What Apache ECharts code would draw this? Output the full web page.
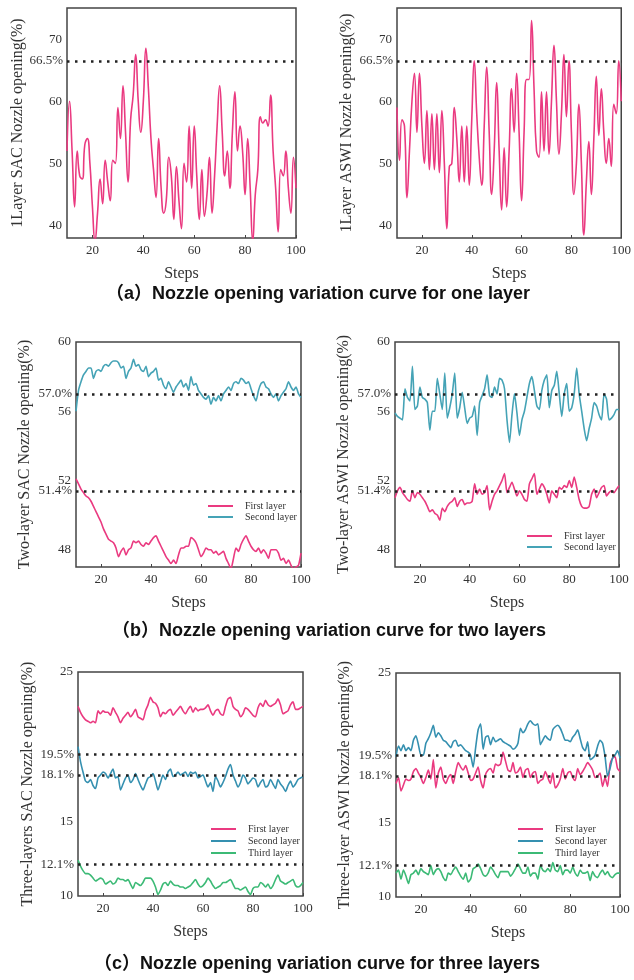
<!DOCTYPE html>
<html>
<head>
<meta charset="utf-8">
<script src="https://cdn.jsdelivr.net/npm/echarts@6/dist/echarts.min.js"></script>
<style>
  html, body { margin: 0; padding: 0; background: #fff; }
  #chart { width: 634px; height: 980px; }
</style>
</head>
<body>
<div id="chart"></div>
<script>
// Control steps 10..100 shared by every panel
const steps = Array.from({ length: 91 }, (_, i) => 10 + i);
const stepTicks = [20, 40, 60, 80, 100];

// One nozzle layer
const oneSAC = [
  52, 60, 52, 43, 52, 48, 47.5, 53, 54, 50,
  43, 37.5, 42, 47.5, 43.5, 50.5, 47, 44, 50.5, 50,
  59, 54, 62.5, 55, 47, 57, 61, 67.5, 60, 55,
  60, 68.5, 62, 54, 49, 44.5, 54, 46, 42, 44,
  51, 48, 41, 49.5, 44, 39.5, 50, 47, 56, 46,
  56, 48, 41, 49, 41.5, 45, 51, 42, 48, 56,
  62.5, 55, 48, 52, 46, 55, 61.5, 52, 56, 52,
  45, 54, 46, 37.5, 45, 49, 57.5, 56.5, 57, 56,
  61, 52, 46, 39, 49, 48, 52, 46, 42, 51, 46
];
const oneASWI = [
  59, 50.5, 57, 56, 44.5, 52, 60, 64.5, 55, 64.5,
  56, 50, 58.5, 49, 58, 49, 58, 48.5, 58.5, 50,
  39.5, 49.5, 50, 59, 54, 47, 56, 47, 56, 46.5,
  57, 66.5, 58, 51, 46.5, 56, 65.5, 55, 45, 52,
  63, 52, 42.5, 52.5, 43, 52, 62, 55, 64.5, 55,
  44, 55, 63.5, 63.5, 73, 62, 52, 51, 61.5, 52,
  61.5, 51.5, 60, 69, 60, 51.5, 58, 67.5, 57.5, 66.5,
  55, 45, 50, 59.5, 50, 38.5, 47, 53.5, 45, 54,
  64, 54.5, 62, 55, 50, 54, 49.5, 59.5, 58, 66.5, 60
];
const oneTicks = [40, 50, 60, 70];
const oneRef = [66.5];

// Two nozzle layers
const twoSAC1 = [
  52.1, 51.8, 51.5, 51.3, 51.1, 51.0, 50.8, 50.5, 50.2, 49.9,
  49.6, 49.2, 48.9, 48.6, 48.5, 48.4, 48.1, 47.6, 47.9, 48.1,
  47.7, 48.0, 48.1, 48.5, 48.4, 48.5, 48.3, 48.2, 48.4, 48.3,
  48.5, 48.7, 48.8, 48.5, 48.2, 47.9, 47.6, 47.4, 47.2, 47.4,
  47.2, 47.7, 48.1, 48.1, 48.2, 48.2, 48.7, 48.6, 48.4, 48.0,
  47.6, 47.8, 48.1, 48.0, 48.0, 47.8, 47.9, 47.7, 47.8, 47.9,
  47.5, 47.2, 46.9, 47.5, 48.1, 47.9, 48.3, 48.6, 48.8, 48.5,
  48.2, 48.0, 47.9, 48.1, 47.8, 48.0, 47.8, 47.5, 48.0, 48.0,
  48.0, 47.8, 47.4, 47.5, 47.2, 47.4, 47.1, 46.9, 47.0, 47.1, 47.8
];
const twoSAC2 = [
  56.0, 57.2, 57.7, 58.1, 58.3, 58.5, 58.5, 57.9, 58.3, 58.4,
  58.3, 58.6, 58.7, 58.6, 58.8, 58.9, 58.9, 58.8, 58.5, 58.6,
  57.9, 58.3, 58.5, 59.0, 58.6, 58.7, 58.4, 58.3, 58.6, 58.0,
  58.2, 58.3, 58.5, 57.8, 57.9, 57.5, 57.3, 57.7, 57.4, 57.1,
  57.4, 57.6, 57.8, 57.4, 57.6, 57.2, 58.0, 57.5, 57.6, 57.2,
  57.0, 56.8, 56.7, 56.9, 56.4, 56.8, 56.6, 56.9, 56.6, 57.0,
  57.2, 57.4, 57.2, 57.6, 57.7, 57.6, 57.9, 57.8, 57.6, 57.7,
  57.3, 56.9, 56.6, 57.2, 57.6, 57.7, 57.4, 57.3, 57.0, 56.8,
  57.0, 56.6, 56.9, 57.1, 57.3, 57.7, 57.4, 57.2, 57.4, 57.0, 56.8
];
const twoASWI1 = [
  51.0, 51.4, 51.6, 51.3, 51.1, 50.9, 50.8, 51.4, 51.0, 51.3,
  51.2, 51.0, 50.8, 50.5, 50.2, 50.3, 50.1, 50.0, 49.7, 50.4,
  50.2, 50.5, 50.7, 50.8, 51.0, 50.5, 50.8, 50.9, 50.6, 50.7,
  50.7, 50.8, 51.8, 51.2, 51.5, 51.2, 51.3, 51.7, 50.3, 50.8,
  51.2, 51.4, 51.7, 52.0, 52.4, 51.3, 51.6, 51.9, 51.5, 51.1,
  51.4, 51.2, 50.9, 50.8, 51.8, 52.1, 52.4, 51.2, 51.5, 51.8,
  51.6, 51.2, 50.7, 51.4, 51.2, 51.0, 51.6, 51.5, 51.7, 51.6,
  52.0, 51.6, 52.2, 51.6, 50.9, 50.5, 50.4, 50.4, 50.5, 51.2,
  51.5, 51.0, 51.3, 51.6, 51.7, 51.1, 51.3, 51.4, 51.3, 51.5, 51.7
];
const twoASWI2 = [
  55.9, 55.7, 55.6, 55.5, 57.3, 56.8, 56.6, 58.6, 56.1, 56.3,
  57.4, 56.8, 56.7, 56.5, 54.9, 56.0, 56.0, 57.9, 57.0, 56.1,
  58.2, 55.6, 56.2, 57.0, 58.2, 55.6, 56.2, 57.1, 56.2, 55.3,
  55.6, 55.7, 56.3, 54.6, 56.5, 56.9, 57.3, 58.1, 56.9, 56.8,
  57.4, 57.0, 57.9, 57.8, 57.3, 55.5, 54.2, 55.8, 57.0, 55.9,
  54.6, 55.5, 56.0, 56.8, 57.6, 58.0, 57.2, 56.3, 56.1, 57.2,
  57.8, 58.1, 56.2, 57.2, 57.5, 58.3, 57.0, 55.7, 57.0, 57.6,
  56.0, 56.2, 57.0, 58.5, 57.0, 56.0, 55.0, 54.3, 55.0, 55.6,
  56.5, 56.3, 55.8, 55.5, 57.0, 56.7, 55.5, 55.6, 55.8, 56.1, 56.1
];
const twoTicks = [48, 52, 56, 60];
const twoRef = [57.0, 51.4];

// Three nozzle layers
const threeSAC1 = [
  22.7, 22.3, 22.0, 21.8, 21.7, 21.6, 21.7, 21.6, 22.4, 22.2,
  22.4, 22.3, 22.3, 22.1, 22.6, 22.3, 22.0, 21.6, 21.9, 22.1,
  22.3, 22.0, 22.2, 22.5, 22.0, 21.9, 21.8, 22.4, 22.8, 23.3,
  23.0, 22.9, 22.6, 22.0, 22.3, 22.2, 22.4, 22.5, 22.1, 22.3,
  22.5, 22.7, 22.4, 22.2, 22.5, 22.7, 22.3, 22.6, 22.4, 22.5,
  22.5, 22.6, 22.8, 22.4, 22.1, 22.4, 22.5, 22.2, 22.1, 22.7,
  23.2, 23.3, 22.7, 22.5, 22.4, 22.0, 22.2, 22.6, 22.5, 22.3,
  22.1, 22.0, 22.6, 22.9, 22.7, 23.1, 22.8, 22.7, 22.8, 22.9,
  23.2, 22.8, 22.2, 22.3, 22.4, 22.8, 23.0, 22.5, 22.5, 22.6, 22.7
];
const threeSAC2 = [
  20.0, 19.0, 18.3, 17.7, 17.6, 17.8, 17.4, 17.2, 17.9, 18.1,
  18.3, 18.2, 17.9, 18.2, 18.5, 17.9, 18.0, 17.1, 17.5, 17.9,
  18.1, 17.6, 17.8, 18.2, 17.8, 17.4, 17.1, 17.5, 17.9, 18.0,
  18.2, 17.7, 17.1, 17.6, 18.1, 17.8, 18.3, 18.5, 18.0, 18.1,
  18.3, 18.1, 18.2, 18.3, 18.0, 18.3, 18.2, 18.3, 17.9, 18.0,
  18.1, 17.7, 17.3, 17.6, 17.0, 18.0, 17.7, 17.3, 17.6, 18.0,
  18.5, 18.8, 18.1, 17.7, 17.3, 17.6, 18.1, 17.9, 17.5, 17.7,
  17.9, 17.8, 17.3, 17.6, 17.8, 17.3, 17.4, 17.8, 17.5, 17.2,
  17.8, 17.5, 17.3, 17.0, 17.4, 17.7, 17.3, 17.5, 17.8, 17.9, 18.0
];
const threeSAC3 = [
  12.4, 12.0, 11.7, 11.5, 11.5, 11.4, 11.2, 11.0, 11.1, 11.2,
  11.1, 10.8, 10.9, 11.0, 10.8, 10.9, 11.2, 11.1, 11.1, 11.0,
  11.1, 10.8, 10.5, 10.9, 10.8, 10.7, 10.9, 11.2, 11.2, 11.2,
  11.0, 10.6, 10.1, 10.4, 10.8, 10.9, 10.7, 11.0, 10.8, 10.7,
  10.7, 10.6, 10.6, 10.5, 10.6, 10.7, 10.9, 11.1, 10.8, 10.6,
  10.7, 10.9, 11.2, 11.0, 10.7, 10.5, 10.6, 10.7, 10.9, 10.9,
  11.0, 11.1, 10.8, 10.5, 10.5, 10.4, 10.5, 10.6, 10.3, 10.1,
  10.5, 10.6, 10.6, 10.9, 10.8, 10.6, 10.8, 10.5, 10.7, 11.1,
  11.4, 11.0, 10.9, 10.8, 10.9, 11.0, 11.1, 10.7, 10.6, 10.7, 10.9
];
const threeASWI1 = [
  17.6, 18.0, 17.1, 17.5, 17.9, 17.8, 17.9, 18.4, 18.6, 18.3,
  18.0, 17.6, 18.0, 18.5, 17.9, 19.2, 17.3, 18.3, 18.7, 17.9,
  17.6, 18.0, 18.2, 17.6, 18.4, 19.0, 18.7, 18.5, 18.8, 18.3,
  17.8, 17.9, 18.3, 18.7, 17.8, 17.3, 18.2, 18.5, 18.6, 18.3,
  18.9, 18.8, 18.9, 19.7, 19.1, 18.5, 18.4, 19.0, 18.3, 18.4,
  18.7, 18.0, 18.5, 18.6, 18.0, 18.3, 18.4, 17.6, 17.8, 17.9,
  18.4, 18.0, 17.6, 18.3, 17.3, 17.5, 17.9, 18.6, 17.9, 18.3,
  18.4, 18.0, 17.8, 18.6, 18.2, 18.4, 18.7, 19.0, 18.8, 18.5,
  18.0, 18.1, 18.3, 17.4, 18.0, 17.4, 18.9, 19.3, 19.4, 18.6, 18.4
];
const threeASWI2 = [
  19.4, 20.1, 19.8, 20.2, 19.8, 20.0, 19.8, 20.5, 20.8, 20.2,
  19.5, 19.5, 20.3, 20.6, 21.0, 21.5, 20.7, 21.0, 20.8, 20.5,
  20.4, 20.2, 20.0, 20.4, 20.5, 20.1, 20.2, 20.0, 19.8, 19.7,
  19.5, 18.7, 20.0, 21.2, 21.6, 19.9, 20.7, 20.8, 20.2, 20.7,
  20.4, 20.5, 20.6, 20.4, 20.3, 20.2, 20.1, 19.9, 20.0, 20.3,
  21.3, 21.0, 21.2, 21.6, 21.8, 21.6, 21.5, 21.6, 20.2, 20.5,
  20.8, 20.6, 20.5, 21.2, 21.4, 21.5, 21.3, 20.9, 20.5, 20.5,
  20.4, 20.7, 20.9, 21.2, 20.6, 20.0, 19.8, 20.4, 19.2, 19.3,
  19.5, 20.1, 20.5, 20.3, 19.4, 18.1, 18.6, 19.3, 19.5, 19.8, 19.3
];
const threeASWI3 = [
  11.6, 11.8, 11.2, 11.8, 11.4, 10.9, 11.5, 11.6, 11.8, 11.5,
  11.9, 11.7, 11.6, 11.5, 12.1, 11.5, 11.8, 11.9, 11.7, 11.3,
  11.1, 11.6, 11.5, 11.8, 12.0, 11.7, 11.4, 11.2, 11.6, 11.0,
  11.2, 11.9, 12.0, 12.2, 11.9, 11.5, 11.4, 11.6, 12.0, 11.8,
  11.5, 11.3, 11.7, 11.7, 11.7, 11.7, 11.4, 11.6, 11.9, 12.2,
  11.9, 11.6, 11.6, 12.0, 11.4, 11.6, 11.6, 11.2, 12.1, 11.8,
  11.7, 11.9, 11.7, 12.3, 11.8, 11.7, 12.1, 11.5, 11.8, 11.8,
  11.6, 12.0, 11.6, 11.4, 11.8, 11.6, 11.6, 11.7, 11.1, 11.7,
  11.4, 11.3, 11.6, 11.8, 11.5, 11.7, 11.4, 11.3, 11.5, 11.6, 11.6
];
const threeTicks = [10, 15, 25];
const threeRef = [19.5, 18.1, 12.1];

const PINK = '#ea3a80';
const TEAL = '#45a3b6';
const BLUE = '#3590b0';
const GREEN = '#3cba76';
const SERIF = "'Liberation Serif', 'Times New Roman', serif";
const SANS = "'Liberation Sans', Arial, 'Noto Sans CJK SC', sans-serif";

// Panel frames, in pixels
const panels = [
  { left: 67,  top: 8,   width: 229, height: 230, yMin: 38, yMax: 75, ticks: oneTicks,   ref: oneRef,   yName: '1Layer SAC Nozzle opening(%)',        nameGap: 41 },
  { left: 397, top: 8,   width: 230, height: 230, yMin: 38, yMax: 75, ticks: oneTicks,   ref: oneRef,   yName: '1Layer ASWI Nozzle opening(%)',       nameGap: 42 },
  { left: 76,  top: 342, width: 225, height: 225, yMin: 47, yMax: 60, ticks: twoTicks,   ref: twoRef,   yName: 'Two-layer SAC Nozzle opening(%)',     nameGap: 43 },
  { left: 395, top: 342, width: 224, height: 225, yMin: 47, yMax: 60, ticks: twoTicks,   ref: twoRef,   yName: 'Two-layer ASWI Nozzle opening(%)',    nameGap: 43 },
  { left: 78,  top: 672, width: 225, height: 224, yMin: 10, yMax: 25, ticks: threeTicks, ref: threeRef, yName: 'Three-layers SAC Nozzle opening(%)',  nameGap: 42 },
  { left: 396, top: 673, width: 224, height: 224, yMin: 10, yMax: 25, ticks: threeTicks, ref: threeRef, yName: 'Three-layer ASWI Nozzle opening(%)',  nameGap: 43 }
];

const pair = arr => arr.map((v, i) => [steps[i], v]);

const lines = [
  { grid: 0, name: 'a1|SAC',          data: oneSAC,      color: PINK,  smooth: 0.5 },
  { grid: 1, name: 'a2|ASWI',         data: oneASWI,     color: PINK,  smooth: 0.5 },
  { grid: 2, name: 'b1|First layer',  data: twoSAC1,     color: PINK,  smooth: 0.2 },
  { grid: 2, name: 'b1|Second layer', data: twoSAC2,     color: TEAL,  smooth: 0.2 },
  { grid: 3, name: 'b2|First layer',  data: twoASWI1,    color: PINK,  smooth: 0.2 },
  { grid: 3, name: 'b2|Second layer', data: twoASWI2,    color: TEAL,  smooth: 0.2 },
  { grid: 4, name: 'c1|First layer',  data: threeSAC1,   color: PINK,  smooth: 0.2 },
  { grid: 4, name: 'c1|Second layer', data: threeSAC2,   color: BLUE,  smooth: 0.2 },
  { grid: 4, name: 'c1|Third layer',  data: threeSAC3,   color: GREEN, smooth: 0.2 },
  { grid: 5, name: 'c2|First layer',  data: threeASWI1,  color: PINK,  smooth: 0.2 },
  { grid: 5, name: 'c2|Second layer', data: threeASWI2,  color: BLUE,  smooth: 0.2 },
  { grid: 5, name: 'c2|Third layer',  data: threeASWI3,  color: GREEN, smooth: 0.2 }
];

const refMarkLine = values => ({
  silent: true,
  symbol: 'none',
  animation: false,
  lineStyle: { type: [2.5, 5.5], width: 2.5, color: '#222' },
  label: {
    position: 'start',
    distance: 4,
    formatter: p => p.value.toFixed(1) + '%',
    fontFamily: SERIF, fontSize: 13, color: '#333'
  },
  data: values.map(v => ({ yAxis: v }))
});

const series = [];
const markedGrids = new Set();
lines.forEach(l => {
  const s = {
    type: 'line',
    name: l.name,
    xAxisIndex: l.grid,
    yAxisIndex: l.grid,
    data: pair(l.data),
    smooth: l.smooth,
    showSymbol: false,
    symbol: 'none',
    clip: true,
    color: l.color,
    lineStyle: { color: l.color, width: 1.6 },
    animation: false
  };
  if (!markedGrids.has(l.grid)) {
    s.markLine = refMarkLine(panels[l.grid].ref);
    markedGrids.add(l.grid);
  }
  series.push(s);
});

const legendBase = {
  orient: 'vertical',
  icon: 'rect',
  padding: 0,
  itemWidth: 25,
  itemHeight: 2,
  itemGap: 1,
  selectedMode: false,
  formatter: n => n.split('|')[1],
  textStyle: { fontFamily: SERIF, fontSize: 10, color: '#333', padding: [0, 0, 0, 7] }
};

const option = {
  backgroundColor: '#fff',
  animation: false,
  title: [
    { text: '（a）Nozzle opening variation curve for one layer',   left: 106, top: 285 },
    { text: '（b）Nozzle opening variation curve for two layers',  left: 112, top: 622 },
    { text: '（c）Nozzle opening variation curve for three layers', left: 94,  top: 955 }
  ].map(t => Object.assign(t, {
    padding: 0,
    textStyle: { fontFamily: SANS, fontWeight: 'bold', fontSize: 18, color: '#111' }
  })),
  legend: [
    Object.assign({ left: 208, top: 501, data: ['b1|First layer', 'b1|Second layer'] }, legendBase),
    Object.assign({ left: 527, top: 531, data: ['b2|First layer', 'b2|Second layer'] }, legendBase),
    Object.assign({ left: 211, top: 824, data: ['c1|First layer', 'c1|Second layer', 'c1|Third layer'] }, legendBase, { itemGap: 2 }),
    Object.assign({ left: 518, top: 824, data: ['c2|First layer', 'c2|Second layer', 'c2|Third layer'] }, legendBase, { itemGap: 2 })
  ],
  grid: panels.map(p => ({
    left: p.left, top: p.top, width: p.width, height: p.height,
    show: true, borderColor: '#444', borderWidth: 1.5, backgroundColor: 'transparent'
  })),
  xAxis: panels.map((p, i) => ({
    type: 'value', gridIndex: i, min: 10, max: 100,
    name: 'Steps', nameLocation: 'middle', nameGap: 28,
    nameTextStyle: { fontFamily: SERIF, fontSize: 16, color: '#333' },
    axisLine: { show: false },
    splitLine: { show: false },
    axisTick: { show: true, inside: true, length: 3, customValues: stepTicks, lineStyle: { color: '#444' } },
    axisLabel: { customValues: stepTicks, margin: 6, fontFamily: SERIF, fontSize: 13, color: '#333' }
  })),
  yAxis: panels.map((p, i) => ({
    type: 'value', gridIndex: i, min: p.yMin, max: p.yMax,
    name: p.yName, nameLocation: 'middle', nameGap: p.nameGap,
    nameTextStyle: { fontFamily: SERIF, fontSize: 16, color: '#333' },
    axisLine: { show: false },
    splitLine: { show: false },
    axisTick: { show: false },
    axisLabel: { customValues: p.ticks, margin: 5, fontFamily: SERIF, fontSize: 13, color: '#333' }
  })),
  series: series
};

const chart = echarts.init(document.getElementById('chart'), null, { renderer: 'canvas' });
chart.setOption(option);
</script>
</body>
</html>
